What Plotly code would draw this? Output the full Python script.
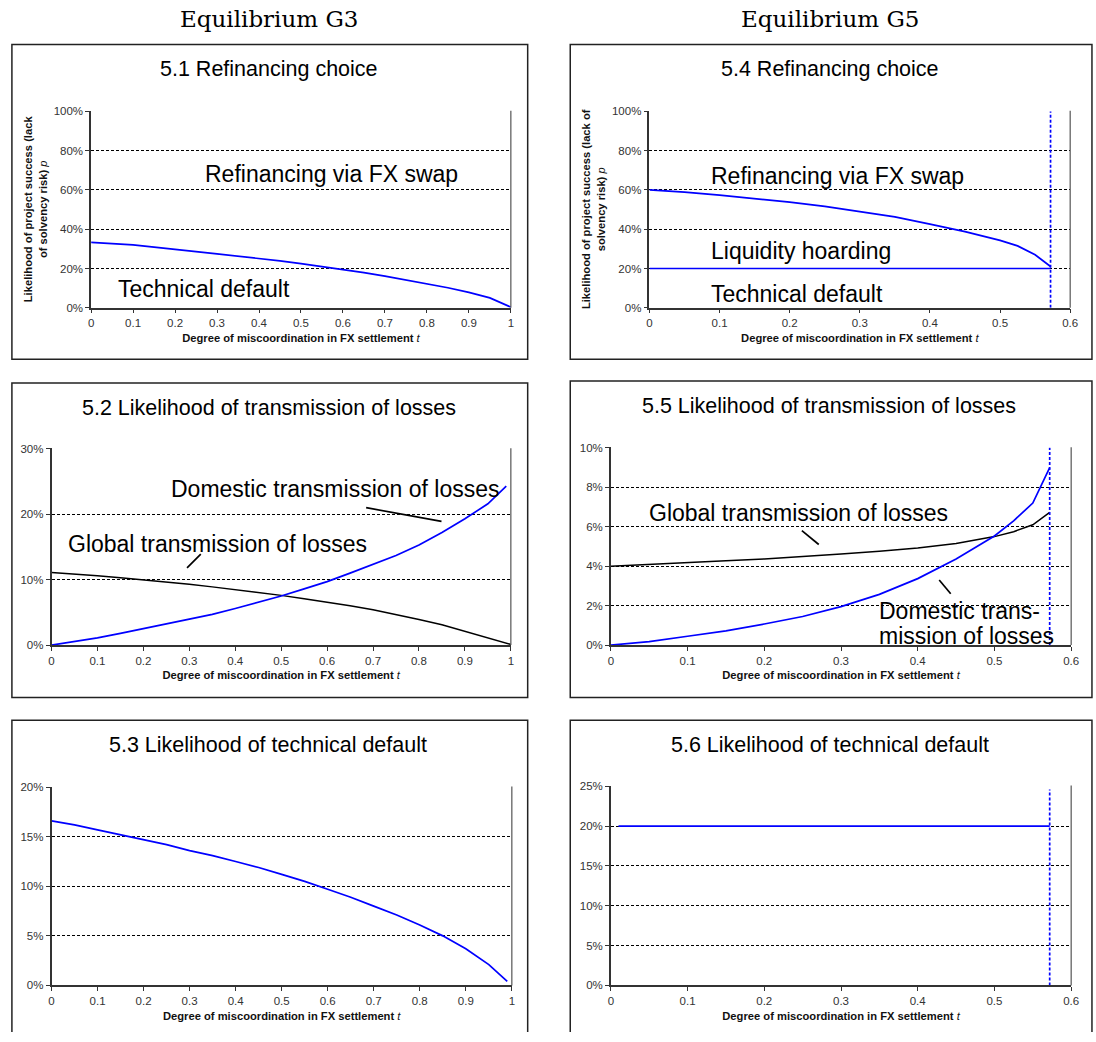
import plotly.graph_objects as go

# page-pixel coordinate system of the reference is 1096 x 1042;
# the figure height is kept a little smaller so the page never overflows.
W, H = 1096, 1032

# ---------------- data (values in %) ----------------
t_g3 = [0.00, 0.05, 0.10, 0.15, 0.20, 0.25, 0.30, 0.35, 0.40, 0.45, 0.50,
        0.55, 0.60, 0.65, 0.70, 0.75, 0.80, 0.85, 0.90, 0.95, 1.00]
t_g3_b = [0.00, 0.05, 0.10, 0.15, 0.20, 0.25, 0.30, 0.35, 0.40, 0.45, 0.50,
          0.55, 0.60, 0.65, 0.70, 0.75, 0.80, 0.85, 0.90, 0.95, 0.99]
refin_g3 = [33.3, 32.8, 32.0, 30.9, 29.6, 28.6, 27.4, 26.3, 25.1, 23.9, 22.5,
            21.0, 19.5, 17.9, 16.1, 14.2, 12.2, 10.2, 7.8, 5.0, 0.3]
dom_g3 = [0.0, 0.55, 1.1, 1.8, 2.5, 3.2, 3.9, 4.7, 5.6, 6.5, 7.5,
          8.6, 9.7, 11.0, 12.3, 13.7, 15.3, 17.2, 19.3, 21.6, 24.3]
glob_g3 = [11.1, 10.9, 10.6, 10.3, 10.0, 9.7, 9.3, 8.9, 8.5, 8.1, 7.6,
           7.1, 6.6, 6.0, 5.4, 4.7, 3.9, 3.1, 2.1, 1.1, 0.1]
tech_g3 = [16.6, 16.2, 15.7, 15.2, 14.7, 14.2, 13.6, 13.1, 12.5, 11.9, 11.2,
           10.5, 9.7, 8.9, 8.0, 7.1, 6.1, 5.0, 3.7, 2.1, 0.4]

t_g5 = [0.00, 0.05, 0.10, 0.15, 0.20, 0.25, 0.30, 0.35, 0.40, 0.45, 0.50,
        0.525, 0.55, 0.572]
refin_g5 = [60.0, 58.9, 57.4, 55.7, 53.8, 51.6, 49.1, 46.3, 42.6, 38.8, 34.3,
            31.5, 27.0, 21.0]
glob_g5 = [4.0, 4.08, 4.17, 4.27, 4.37, 4.48, 4.62, 4.76, 4.92, 5.15, 5.5,
           5.75, 6.1, 6.73]
dom_g5 = [0.0, 0.18, 0.45, 0.72, 1.07, 1.45, 1.95, 2.57, 3.37, 4.37, 5.53,
          6.3, 7.2, 9.0]
hoard_t = [0.0, 0.572]
hoard_g5 = [20.0, 20.0]
tech_t = [0.01, 0.572]
tech_g5 = [20.0, 20.0]
t_star = 0.572
vline_54 = [0.0, 100.0]
vline_55 = [0.0, 10.0]
vline_56 = [0.0, 24.6]

# leader lines (t, %)
lead_52_dom = ([0.685, 0.849], [21.0, 18.9])
lead_52_glob = ([0.325, 0.295], [13.9, 11.8])
lead_55_glob = ([0.249, 0.271], [5.8, 5.1])
lead_55_dom = ([0.428, 0.443], [3.3, 2.6])

x_ticks_g3 = [0, 0.1, 0.2, 0.3, 0.4, 0.5, 0.6, 0.7, 0.8, 0.9, 1.0]
x_ticklabels_g3 = ["0", "0.1", "0.2", "0.3", "0.4", "0.5", "0.6", "0.7", "0.8", "0.9", "1"]
x_ticks_g5 = [0, 0.1, 0.2, 0.3, 0.4, 0.5, 0.6]
x_ticklabels_g5 = ["0", "0.1", "0.2", "0.3", "0.4", "0.5", "0.6"]

BLUE = "#0000FF"
FONT = "Liberation Sans, Arial, sans-serif"


def pc(v):
    return [x / 100.0 for x in v]


def px(x):
    return x / W


def py(y):
    return 1 - y / H


fig = go.Figure()


def line(n, x, y, color, width=1.7, dash=None):
    fig.add_trace(go.Scatter(
        x=x, y=pc(y), mode="lines", xaxis="x" if n == 1 else f"x{n}",
        yaxis="y" if n == 1 else f"y{n}",
        line=dict(color=color, width=width, dash=dash),
        hoverinfo="skip", showlegend=False))


# 5.1
line(1, t_g3, refin_g3, BLUE)
# 5.2
line(2, t_g3, glob_g3, "black", 1.5)
line(2, t_g3_b, dom_g3, BLUE)
line(2, lead_52_dom[0], lead_52_dom[1], "black", 1.7)
line(2, lead_52_glob[0], lead_52_glob[1], "black", 1.7)
# 5.3
line(3, t_g3_b, tech_g3, BLUE)
# 5.4
line(4, t_g5, refin_g5, BLUE)
line(4, hoard_t, hoard_g5, BLUE)
line(4, [t_star, t_star], vline_54, BLUE, 1.7, "3px,2px")
# 5.5
line(5, t_g5, glob_g5, "black", 1.5)
line(5, t_g5, dom_g5, BLUE)
line(5, [t_star, t_star], vline_55, BLUE, 1.7, "3px,2px")
line(5, lead_55_glob[0], lead_55_glob[1], "black", 1.7)
line(5, lead_55_dom[0], lead_55_dom[1], "black", 1.7)
# 5.6
line(6, tech_t, tech_g5, BLUE)
line(6, [t_star, t_star], vline_56, BLUE, 1.7, "3px,2px")

# ---------------- layout ----------------
# plot areas in pixels: (x0, x1, y_top, y_bottom)
areas = {
    1: (89, 513, 107, 306),
    2: (49, 513, 448, 647),
    3: (49, 514, 790, 991),
    4: (653, 1078, 107, 306),
    5: (614, 1079, 447, 647),
    6: (614, 1079, 789, 991),
}
yranges = {1: (0, 1, 0.2), 2: (0, 0.3, 0.1), 3: (0, 0.2, 0.05),
           4: (0, 1, 0.2), 5: (0, 0.1, 0.02), 6: (0, 0.25, 0.05)}

xtitle = "<b>Degree of miscoordination in FX settlement </b><i>t</i>"
ytitles = {
    1: "<b>Likelihood of project success (lack<br>of solvency risk)</b> <i>p</i>",
    4: "<b>Likelihood of project success (lack of<br>solvency risk)</b> <i>p</i>",
}

tickfont = dict(family=FONT, size=11.5, color="#333")
layout = dict(width=W, height=H, margin=dict(l=0, r=0, t=0, b=0),
              paper_bgcolor="white", plot_bgcolor="white", showlegend=False)

for n, (x0, x1, yt, yb) in areas.items():
    left = n <= 3
    xs = "xaxis" if n == 1 else f"xaxis{n}"
    ys = "yaxis" if n == 1 else f"yaxis{n}"
    lo, hi, dt = yranges[n]
    ytv = []
    v = lo
    while v <= hi + 1e-9:
        ytv.append(round(v, 4))
        v += dt
    layout[xs] = dict(
        domain=[px(x0), px(x1)], anchor="y" if n == 1 else f"y{n}",
        range=[0, 1] if left else [0, 0.6],
        tickvals=x_ticks_g3 if left else x_ticks_g5,
        ticktext=x_ticklabels_g3 if left else x_ticklabels_g5,
        showgrid=False, zeroline=False, showline=True, linecolor="#333",
        linewidth=1.5, ticks="outside", ticklen=4, tickcolor="#333",
        tickfont=tickfont,
        title=dict(text=xtitle, font=dict(family=FONT, size=11.2, color="#111"),
                   standoff=6),
    )
    ydict = dict(
        domain=[py(yb), py(yt)], anchor="x" if n == 1 else f"x{n}",
        range=[lo, hi * 1.003], tickvals=ytv, tickformat=".0%",
        showgrid=True, gridcolor="black", gridwidth=1, griddash="3px,2px",
        zeroline=False, showline=True, linecolor="#333", linewidth=1.5,
        mirror=False, ticks="outside", ticklen=4, tickcolor="#333",
        tickfont=tickfont,
    )
    if n in ytitles:
        ydict["title"] = dict(text=ytitles[n],
                              font=dict(family=FONT, size=11.2, color="#111"),
                              standoff=4)
    layout[ys] = ydict

fig.update_layout(**layout)

# right border of each plot area
for n, (x0, x1, yt, yb) in areas.items():
    fig.add_shape(type="line", xref="paper", yref="paper",
                  x0=px(x1), x1=px(x1), y0=py(yb), y1=py(yt),
                  line=dict(color="#555", width=1.2))

# boxes around each panel
boxes = [(9, 530, 40, 358), (9, 530, 382, 700), (9, 530, 723, 1050),
         (573, 1100, 40, 358), (573, 1100, 380, 700), (573, 1100, 723, 1050)]
for (x0, x1, y0, y1) in boxes:
    fig.add_shape(type="rect", xref="paper", yref="paper",
                  x0=px(x0), x1=px(x1), y0=py(y1), y1=py(y0),
                  line=dict(color="#222", width=1.5), layer="below")

# column headers
for txt, cx in [("Equilibrium G3", 269), ("Equilibrium G5", 835)]:
    fig.add_annotation(text=txt, xref="paper", yref="paper", x=px(cx), y=py(14),
                       showarrow=False, xanchor="center", yanchor="middle",
                       font=dict(family="DejaVu Serif, serif", size=23, color="black"))

# panel titles
titles = [("5.1 Refinancing choice", 269, 65),
          ("5.2 Likelihood of transmission of losses", 269, 407),
          ("5.3 Likelihood of technical default", 268, 748),
          ("5.4 Refinancing choice", 835, 65),
          ("5.5 Likelihood of transmission of losses", 834, 405),
          ("5.6 Likelihood of technical default", 835, 748)]
for txt, cx, cy in titles:
    fig.add_annotation(text=txt, xref="paper", yref="paper", x=px(cx), y=py(cy),
                       showarrow=False, xanchor="center", yanchor="middle",
                       font=dict(family=FONT, size=21.5, color="black"))

# in-plot labels (data coordinates)
labels = [
    (1, "Refinancing via FX swap", 0.267, 0.683, "left"),
    (1, "Technical default", 0.059, 0.095, "left"),
    (2, "Domestic transmission of losses", 0.618, 0.238, "center"),
    (2, "Global transmission of losses", 0.362, 0.155, "center"),
    (4, "Refinancing via FX swap", 0.0847, 0.673, "left"),
    (4, "Liquidity hoarding", 0.0847, 0.291, "left"),
    (4, "Technical default", 0.0847, 0.070, "left"),
    (5, "Global transmission of losses", 0.245, 0.067, "center"),
    (5, "Domestic trans-", 0.347, 0.0175, "left"),
    (5, "mission of losses", 0.347, 0.0045, "left"),
]
for n, txt, x, y, anc in labels:
    fig.add_annotation(text=txt, xref="x" if n == 1 else f"x{n}",
                       yref="y" if n == 1 else f"y{n}", x=x, y=y,
                       showarrow=False, xanchor=anc, yanchor="middle",
                       font=dict(family=FONT, size=23, color="black"))

fig.write_html("out.html", config={"displayModeBar": False},
               post_script="document.body.style.margin='0px';"
                           "document.documentElement.style.overflow='hidden';"
                           "document.body.style.overflow='hidden';")
